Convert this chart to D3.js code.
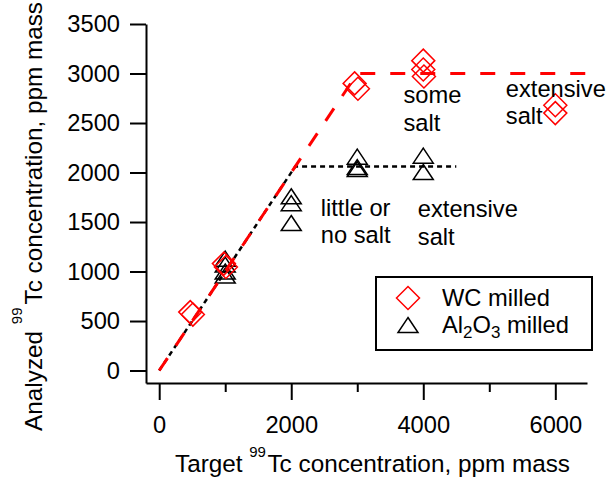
<!DOCTYPE html>
<html>
<head>
<meta charset="utf-8">
<script src="https://cdn.jsdelivr.net/npm/d3@7"></script>
<style>
  body { margin: 0; background: #fff; }
  svg { font-family: "Liberation Sans", Arial, sans-serif; }
</style>
</head>
<body>
<svg id="chart" width="610" height="482"></svg>
<script>
// WC milled (red diamonds)
var wcX = [470, 510, 980, 1010, 2960, 3010, 4000, 4000, 4010, 6000, 6000];
var wcY = [590, 565, 1080, 1045, 2900, 2846, 3130, 3040, 2970, 2680, 2600];
// Al2O3 milled (black triangles)
var alX = [1000, 1000, 1000, 1000, 2000, 2000, 2000, 3000, 3000, 3000, 4000, 4000];
var alY = [1130, 1070, 1000, 960, 1760, 1690, 1490, 2160, 2055, 2035, 2170, 2005];
// guide lines
var redLineX = [0, 3000, 6480];
var redLineY = [0, 3000, 3000];
var blackLineX = [0, 2060, 4500];
var blackLineY = [0, 2060, 2060];
// ticks
var xMajor = [0, 2000, 4000, 6000];
var xMinor = [1000, 3000, 5000];
var yTicks = [0, 500, 1000, 1500, 2000, 2500, 3000, 3500];
// notes
var notes = [
	{x: 3700, y: 2700, lines: ['some', 'salt']},
	{x: 5250, y: 2766, lines: ['extensive', 'salt']},
	{x: 2447, y: 1561, lines: ['little or', 'no salt']},
	{x: 3917, y: 1548, lines: ['extensive', 'salt']}
];

var svg = d3.select('#chart');
var fs = 23.7;
var sup = 15;

var x = d3.scaleLinear().domain([-200, 6480]).range([146, 587]);
var y = d3.scaleLinear().domain([-126, 3500]).range([383, 24]);

// axes
svg.append('g')
	.attr('transform', 'translate(0,383)')
	.call(d3.axisBottom(x).tickValues(xMajor).tickSize(17).tickPadding(16).tickSizeOuter(0).tickFormat(d3.format('d')));
svg.append('g')
	.attr('transform', 'translate(0,383)')
	.call(d3.axisBottom(x).tickValues(xMinor).tickSize(9).tickSizeOuter(0).tickFormat(''))
	.select('.domain').remove();
svg.append('g')
	.attr('transform', 'translate(146,0)')
	.call(d3.axisLeft(y).tickValues(yTicks).tickSize(16).tickPadding(10).tickSizeOuter(0).tickFormat(d3.format('d')));

svg.selectAll('.domain, .tick line').attr('stroke', '#000').attr('stroke-width', 2);
svg.selectAll('.tick text').attr('font-size', fs).attr('fill', '#000')
	.attr('font-family', '"Liberation Sans", Arial, sans-serif');

// guide lines
var line = d3.line().x(function (d) { return x(d[0]); }).y(function (d) { return y(d[1]); });
svg.append('path')
	.datum(d3.zip(blackLineX, blackLineY))
	.attr('d', line)
	.attr('fill', 'none')
	.attr('stroke', '#000')
	.attr('stroke-width', 2.5)
	.attr('stroke-dasharray', '5,4');

// markers
var diamond = 'M0,-11.5L11.5,0L0,11.5L-11.5,0Z';
var triangle = 'M0,-7.5L10,7.5L-10,7.5Z';

svg.append('g').selectAll('path')
	.data(d3.zip(alX, alY))
	.enter().append('path')
	.attr('d', triangle)
	.attr('transform', function (d) { return 'translate(' + x(d[0]) + ',' + y(d[1]) + ')'; })
	.attr('fill', 'none')
	.attr('stroke', '#000')
	.attr('stroke-width', 1.5);

svg.append('g').selectAll('path')
	.data(d3.zip(wcX, wcY))
	.enter().append('path')
	.attr('d', diamond)
	.attr('transform', function (d) { return 'translate(' + x(d[0]) + ',' + y(d[1]) + ')'; })
	.attr('fill', 'none')
	.attr('stroke', '#ff0000')
	.attr('stroke-width', 1.5);

svg.append('path')
	.datum(d3.zip(redLineX, redLineY))
	.attr('d', line)
	.attr('fill', 'none')
	.attr('stroke', '#ff0000')
	.attr('stroke-width', 3)
	.attr('stroke-dasharray', '15,15');

// notes
notes.forEach(function (n) {
	var t = svg.append('text')
		.attr('x', x(n.x))
		.attr('y', y(n.y))
		.attr('font-size', fs);
	n.lines.forEach(function (s, i) {
		t.append('tspan').attr('x', x(n.x)).attr('dy', i ? 27.5 : 0).text(s);
	});
});

// axis titles
var xt = svg.append('text').attr('x', 175).attr('y', 472).attr('font-size', 24.3);
xt.append('tspan').text('Target ');
xt.append('tspan').attr('dy', -15).attr('font-size', sup).text('99');
xt.append('tspan').attr('dy', 15).attr('dx', 1.5).text('Tc concentration, ppm mass');

var yt = svg.append('text')
	.attr('transform', 'translate(41.5,0) rotate(-90)')
	.attr('x', -2)
	.attr('text-anchor', 'end')
	.attr('font-size', 24.3);
yt.append('tspan').text('Analyzed ');
yt.append('tspan').attr('dy', -20).attr('font-size', sup).text('99');
yt.append('tspan').attr('dy', 20).attr('dx', 3).text('Tc concentration, ppm mass');

// legend
var lg = svg.append('g').attr('transform', 'translate(376,277)');
lg.append('rect')
	.attr('width', 216)
	.attr('height', 73)
	.attr('fill', '#fff')
	.attr('stroke', '#000')
	.attr('stroke-width', 2);
lg.append('path').attr('d', diamond).attr('transform', 'translate(32,21)')
	.attr('fill', 'none').attr('stroke', '#ff0000').attr('stroke-width', 1.5);
lg.append('path').attr('d', triangle).attr('transform', 'translate(32,48)')
	.attr('fill', 'none').attr('stroke', '#000').attr('stroke-width', 1.5);
lg.append('text').attr('x', 66).attr('y', 29).attr('font-size', fs).text('WC milled');
var al = lg.append('text').attr('x', 66).attr('y', 56).attr('font-size', fs);
al.append('tspan').text('Al');
al.append('tspan').attr('font-size', 17).attr('dy', 5).text('2');
al.append('tspan').attr('dy', -5).text('O');
al.append('tspan').attr('font-size', 17).attr('dy', 5).text('3');
al.append('tspan').attr('dy', -5).text(' milled');
</script>
</body>
</html>
